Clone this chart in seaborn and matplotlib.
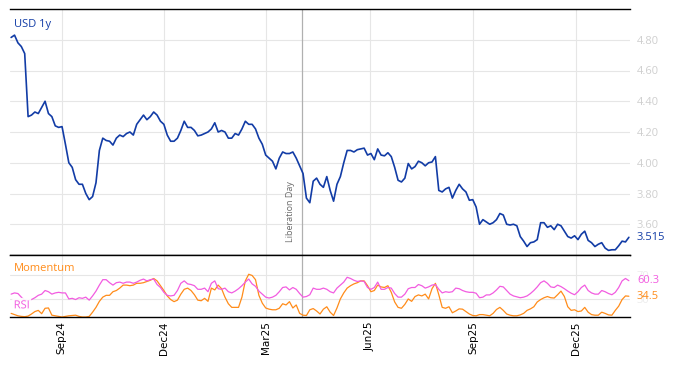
import pandas as pd
import matplotlib
matplotlib.use("Agg")
import matplotlib.pyplot as plt
import matplotlib.patheffects as pe
import matplotlib.transforms as mtrans
import seaborn as sns

# ---------------- data ----------------
dates = pd.date_range("2024-07-18", "2026-01-17", periods=183)

usd_1y = [
    4.815, 4.83, 4.78, 4.756, 4.71, 4.30, 4.31, 4.33, 4.32, 4.36,
    4.40, 4.32, 4.30, 4.24, 4.23, 4.235, 4.12, 4.00, 3.97, 3.89,
    3.86, 3.86, 3.80, 3.76, 3.78, 3.87, 4.08, 4.16, 4.145, 4.14,
    4.115, 4.16, 4.18, 4.17, 4.19, 4.20, 4.18, 4.25, 4.28, 4.31,
    4.28, 4.30, 4.33, 4.31, 4.27, 4.25, 4.18, 4.14, 4.14, 4.16,
    4.21, 4.27, 4.23, 4.23, 4.21, 4.175, 4.18, 4.19, 4.20, 4.22,
    4.26, 4.20, 4.21, 4.20, 4.16, 4.16, 4.19, 4.18, 4.22, 4.27,
    4.25, 4.25, 4.22, 4.16, 4.12, 4.05, 4.03, 4.01, 3.96, 4.03,
    4.07, 4.06, 4.06, 4.07, 4.03, 3.98, 3.93, 3.77, 3.74, 3.88,
    3.90, 3.86, 3.84, 3.91, 3.82, 3.75, 3.86, 3.91, 4.00, 4.08,
    4.08, 4.07, 4.085, 4.09, 4.095, 4.05, 4.06, 4.02, 4.09, 4.05,
    4.045, 4.065, 4.04, 3.97, 3.886, 3.875, 3.90, 3.995, 3.96, 3.975,
    4.01, 4.00, 3.98, 4.00, 4.005, 4.04, 3.82, 3.81, 3.83, 3.84,
    3.77, 3.82, 3.86, 3.83, 3.81, 3.756, 3.76, 3.712, 3.60, 3.63,
    3.615, 3.60, 3.61, 3.63, 3.67, 3.66, 3.60, 3.595, 3.60, 3.59,
    3.52, 3.49, 3.455, 3.48, 3.485, 3.50, 3.61, 3.61, 3.58, 3.59,
    3.565, 3.60, 3.59, 3.555, 3.52, 3.51, 3.525, 3.50, 3.535, 3.555,
    3.495, 3.48, 3.455, 3.47, 3.48, 3.445, 3.43, 3.434, 3.434, 3.46,
    3.49, 3.485, 3.515,
]

rsi = [
    38, 40, 39, 33, 28, 27, 29, 32, 36, 38,
    44, 42, 38, 40, 41, 40, 40, 30, 31, 29,
    32, 31, 33, 28, 35, 43, 53, 62, 62, 57,
    53, 57, 58, 56, 58, 58, 56, 58, 61, 63,
    60, 62, 63, 54, 49, 41, 36, 35, 36, 44,
    56, 60, 55, 54, 52, 46, 46, 48, 42, 56,
    60, 47, 46, 48, 42, 40, 43, 47, 52, 58,
    63, 55, 51, 43, 38, 33, 31.5, 33, 36, 42,
    49, 50, 45, 49, 46, 39, 33, 34, 37, 48,
    46, 46, 48, 46, 42, 40, 48, 53, 58, 66,
    64, 61, 59, 60, 59, 49, 46, 49, 58, 46,
    46, 49, 48, 39, 33, 33, 38, 47, 49, 49,
    54, 52, 48, 50, 53, 54, 46, 40, 42, 41,
    42, 48, 47, 44, 42, 41, 41, 39.5, 32, 33,
    36.7, 36.7, 40, 45, 51, 50, 44, 38, 35, 33.5,
    32, 33, 35, 39, 44, 50, 57, 60, 56, 50,
    49, 53, 50.5, 47, 43, 39.5, 37, 42, 49, 53,
    44, 40, 38, 38, 44, 42, 39, 37, 41, 49,
    60, 64, 60.3,
]

momentum = [
    6, 4, 2, 1, 0.5, 1.5, 5, 9, 11, 5.5,
    14.5, 15, 3, 2, 1, 0, 1, 2, 2.5, 3,
    1, 0, 0, 1, 8, 16, 26, 33, 36, 36,
    42, 44, 48, 53, 53, 52, 53, 56, 56, 57,
    59, 61, 64, 60, 52, 44, 35, 29, 25.5, 28,
    38, 46, 48, 44, 37, 28, 27, 31, 26, 48,
    45, 53, 47, 33, 22, 16, 16, 16, 33, 60,
    71, 69, 62, 36, 23, 15, 13, 12, 12, 14.5,
    22, 20, 25.5, 15, 20, 6, 3, 2.5, 12, 14,
    10, 5, 13, 17, 8, 2.5, 15, 30, 40, 48,
    52, 55, 57, 60, 60, 52, 42, 44, 53, 50,
    49, 52, 41, 25, 16, 14.5, 21, 30, 26, 34,
    36.7, 35, 38, 30, 47, 56, 37, 16, 14.5, 17,
    7, 10, 13.5, 13, 9, 5, 2.5, 2, 4, 4,
    3, 2, 6, 12.5, 16, 11, 5, 3, 2, 2,
    3.5, 6, 11, 13.5, 17, 25, 29, 32, 34, 32,
    31.5, 37, 43, 34, 17, 11, 12, 9, 10, 16,
    8, 4, 3, 3, 8, 6, 3.5, 3, 11, 18,
    29, 35, 34.5,
]

tick_dates = ["2024-09-01", "2024-12-01", "2025-03-01",
              "2025-06-01", "2025-09-01", "2025-12-01"]
tick_labels = ["Sep24", "Dec24", "Mar25", "Jun25", "Sep25", "Dec25"]
usd_ticks = [3.60, 3.80, 4.00, 4.20, 4.40, 4.60, 4.80]
osc_ticks = [30, 70]
event_date = "2025-04-02"
event_label = "Liberation Day"

df = pd.DataFrame({"date": dates, "usd": usd_1y, "rsi": rsi, "momentum": momentum})

# ---------------- style ----------------
sns.set_theme(style="white")
plt.rcParams["font.family"] = ["Open Sans", "DejaVu Sans"]

C_USD = "#123ca6"
C_RSI = "#f25ce0"
C_MOM = "#ff8c1a"
C_GRID = "#e6e6e6"

W, H = 674, 366
fig = plt.figure(figsize=(W / 100, H / 100), dpi=100)
ax1 = fig.add_axes([10 / W, 1 - 255 / H, 620 / W, 246 / H])
ax2 = fig.add_axes([10 / W, 1 - 317 / H, 620 / W, 62 / H], sharex=ax1)

sns.lineplot(data=df, x="date", y="usd", ax=ax1, color=C_USD, linewidth=1.2)
sns.lineplot(data=df, x="date", y="momentum", ax=ax2, color=C_MOM, linewidth=0.9)
sns.lineplot(data=df, x="date", y="rsi", ax=ax2, color=C_RSI, linewidth=0.9)

xticks = pd.to_datetime(tick_dates)
ax1.set_xlim(pd.Timestamp("2024-07-17"), pd.Timestamp("2026-01-18"))
ax1.set_ylim(3.40, 5.00)
ax2.set_ylim(0, 103)

for ax in (ax1, ax2):
    ax.set_xlabel("")
    ax.set_ylabel("")
    ax.set_facecolor("white")
    ax.grid(True, color=C_GRID, linewidth=0.8)
    ax.set_axisbelow(True)
    for s in ("left", "right"):
        ax.spines[s].set_visible(False)
    for s in ("top", "bottom"):
        ax.spines[s].set_visible(True)
        ax.spines[s].set_color("black")
        ax.spines[s].set_linewidth(1.0)
    ax.yaxis.tick_right()
    ax.tick_params(axis="y", length=0, pad=5, labelsize=8)
    ax.set_xticks(xticks)
    ax.tick_params(axis="x", direction="in", length=4, width=1, color="black")

ax1.set_yticks(usd_ticks)
ax1.set_yticklabels([f"{v:.2f}" for v in usd_ticks])
ax1.tick_params(axis="y", labelcolor="#cfcfcf")
ax1.tick_params(axis="x", labelbottom=False)

ax2.set_yticks(osc_ticks)
ax2.set_yticklabels([str(v) for v in osc_ticks])
ax2.tick_params(axis="y", labelcolor="#ececec")
ax2.set_xticklabels(tick_labels, rotation=90, fontsize=7.5, color="black",
                    family="DejaVu Sans")
ax2.tick_params(axis="x", pad=3)

# event line
ev = pd.Timestamp(event_date)
for ax in (ax1, ax2):
    ax.axvline(ev, color="#b0b0b0", linewidth=0.9, zorder=1)
ax1.annotate(event_label, xy=(ev, 0), xycoords=("data", "axes fraction"),
             xytext=(-5, 9), textcoords="offset points", rotation=90,
             ha="right", va="bottom", fontsize=6.5, color="#6b6b6b")

# labels
ax1.text(0.006, 0.935, "USD 1y", transform=ax1.transAxes, color=C_USD,
         fontsize=8, ha="left", va="center")
ax2.text(0.006, 0.79, "Momentum", transform=ax2.transAxes, color=C_MOM,
         fontsize=8, ha="left", va="center")
ax2.text(0.006, 0.18, "RSI", transform=ax2.transAxes, color=C_RSI,
         fontsize=8, ha="left", va="center",
         path_effects=[pe.withStroke(linewidth=4, foreground="white", alpha=0.9)])

# last-value labels
ax1.annotate(f"{usd_1y[-1]:.3f}", xy=(1, usd_1y[-1]), xycoords=("axes fraction", "data"),
             xytext=(5, 0), textcoords="offset points", va="center", ha="left",
             fontsize=8, color=C_USD, annotation_clip=False)
ax2.annotate(f"{rsi[-1]:.1f}", xy=(1, rsi[-1]), xycoords=("axes fraction", "data"),
             xytext=(5, 0), textcoords="offset points", va="center", ha="left",
             fontsize=8, color=C_RSI, annotation_clip=False)
ax2.annotate(f"{momentum[-1]:.1f}", xy=(1, momentum[-1]), xycoords=("axes fraction", "data"),
             xytext=(5, 0), textcoords="offset points", va="center", ha="left",
             fontsize=8, color=C_MOM, annotation_clip=False)

fig.savefig("out.png", dpi=100, facecolor="white")
